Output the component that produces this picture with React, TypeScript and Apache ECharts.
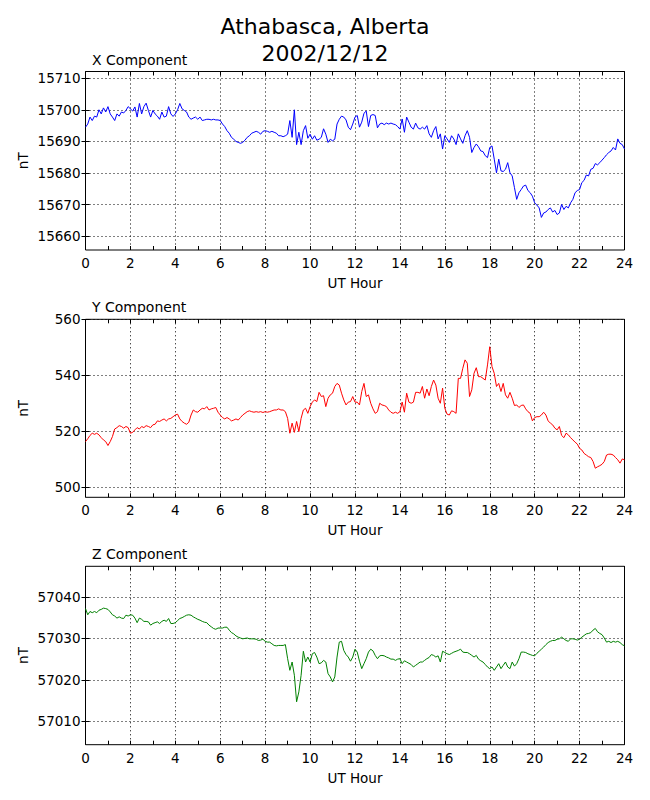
import React, { useEffect, useRef } from 'react';
import * as echarts from 'echarts';

// samples every 0.1 UT hour, 0..24
const STEP = 0.1;

const xComponent = [
  15694.5, 15695.5, 15697.7, 15696.6, 15698.0, 15697.7, 15700.0, 15698.7, 15700.6, 15699.3,
  15701.0, 15698.7, 15697.7, 15696.6, 15698.7, 15698.0, 15699.3, 15699.0, 15699.8, 15701.0,
  15700.3, 15699.6, 15700.9, 15697.7, 15702.0, 15698.7, 15701.0, 15702.1, 15699.8, 15697.7,
  15699.8, 15698.7, 15698.0, 15697.0, 15699.3, 15697.7, 15698.0, 15701.0, 15698.7, 15697.9,
  15698.7, 15700.0, 15702.0, 15700.3, 15699.8, 15699.3, 15697.7, 15697.0, 15697.4, 15697.7,
  15697.0, 15697.7, 15696.6, 15696.8, 15697.0, 15697.0, 15696.8, 15697.0, 15696.8, 15696.8,
  15696.6, 15695.5, 15694.7, 15693.4, 15692.6, 15691.3, 15690.7, 15690.0, 15689.7, 15689.4,
  15689.7, 15690.4, 15691.3, 15691.8, 15692.6, 15692.9, 15693.2, 15692.9, 15692.3, 15693.2,
  15693.4, 15693.2, 15692.9, 15693.2, 15692.9, 15692.6, 15691.8, 15691.8, 15691.5, 15691.8,
  15692.3, 15696.6, 15691.3, 15700.0, 15689.0, 15692.9, 15689.0, 15693.4, 15695.0, 15691.0,
  15692.3, 15690.7, 15691.8, 15690.4, 15690.7, 15691.3, 15694.0, 15692.3, 15689.7, 15690.7,
  15690.2, 15690.7, 15695.5, 15697.0, 15698.0, 15697.7, 15696.8, 15694.5, 15693.7, 15695.5,
  15697.7, 15698.2, 15694.5, 15696.1, 15698.9, 15699.6, 15694.7, 15698.2, 15698.5, 15698.2,
  15694.3, 15695.5, 15695.8, 15695.3, 15695.8, 15695.5, 15695.8, 15695.5, 15695.3, 15694.7,
  15693.9, 15697.1, 15692.9, 15697.7, 15696.1, 15694.5, 15693.9, 15695.8, 15694.3, 15693.9,
  15694.5, 15693.9, 15695.0, 15692.4, 15691.3, 15693.4, 15694.7, 15690.8, 15692.4, 15687.6,
  15691.8, 15690.8, 15689.7, 15691.8, 15690.8, 15689.0, 15692.4, 15690.8, 15689.4, 15691.8,
  15693.4, 15691.3, 15686.5, 15688.1, 15689.2, 15688.3, 15687.0, 15686.8, 15685.5, 15684.9,
  15688.1, 15688.6, 15684.4, 15680.1, 15684.4, 15680.7, 15680.5, 15681.2, 15683.3, 15680.1,
  15679.1, 15675.4, 15671.7, 15673.8, 15674.8, 15675.9, 15676.2, 15674.5, 15673.8, 15672.7,
  15670.6, 15669.9, 15669.0, 15666.0, 15667.4, 15667.7, 15668.5, 15669.0, 15667.7, 15668.2,
  15666.9, 15667.4, 15670.1, 15668.5, 15669.5, 15669.0, 15670.6, 15671.7, 15673.8, 15674.5,
  15674.8, 15677.0, 15677.7, 15679.4, 15679.1, 15681.2, 15681.5, 15683.0, 15682.6, 15683.3,
  15684.1, 15684.9, 15685.8, 15686.5, 15687.0, 15688.1, 15687.3, 15690.8, 15689.4, 15689.0,
  15687.6,
];

const yComponent = [
  516.3, 517.3, 518.5, 519.3, 518.9, 519.3, 518.7, 517.7, 516.9, 516.3,
  514.9, 516.3, 518.1, 520.8, 521.3, 522.0, 521.7, 521.1, 521.7, 521.3,
  519.3, 519.6, 520.5, 521.3, 520.8, 521.7, 521.3, 522.0, 521.7, 521.3,
  522.3, 522.5, 523.7, 523.5, 524.0, 524.4, 523.7, 524.4, 524.6, 525.2,
  525.8, 526.1, 524.4, 523.5, 522.9, 522.5, 523.2, 525.8, 527.6, 527.0,
  526.8, 527.6, 528.2, 528.0, 528.8, 527.6, 528.0, 528.2, 528.5, 526.8,
  525.8, 524.9, 524.4, 524.9, 524.4, 523.7, 524.0, 524.4, 524.0, 524.9,
  525.8, 526.4, 527.0, 527.3, 527.0, 526.8, 527.0, 526.8, 527.0, 526.7,
  527.0, 526.8, 527.0, 527.3, 527.6, 527.6, 528.0, 527.6, 527.6, 527.0,
  524.6, 519.3, 522.9, 519.6, 523.5, 519.9, 524.6, 527.6, 528.2, 526.4,
  528.8, 530.4, 531.2, 530.6, 533.9, 532.4, 532.7, 528.8, 531.8, 533.0,
  533.6, 536.0, 537.1, 536.5, 533.6, 531.2, 529.4, 530.4, 530.6, 532.4,
  530.4, 530.4, 529.4, 534.2, 537.1, 532.4, 533.0, 530.0, 528.0, 526.4,
  527.0, 530.0, 529.4, 529.2, 528.8, 527.6, 526.8, 526.4, 526.8, 526.4,
  527.0, 530.4, 526.8, 533.6, 530.4, 530.0, 530.4, 533.9, 533.9, 533.6,
  536.0, 531.8, 535.1, 532.7, 536.0, 538.3, 536.5, 531.8, 530.0, 535.4,
  528.2, 526.1, 525.8, 527.3, 527.0, 526.4, 538.9, 538.9, 542.5, 545.5,
  544.3, 532.4, 534.8, 540.7, 542.7, 539.5, 539.5, 538.9, 538.3, 543.7,
  550.2, 543.1, 540.7, 536.0, 537.1, 534.2, 537.1, 533.0, 531.8, 533.9,
  531.8, 529.2, 529.4, 528.5, 529.2, 529.4, 528.0, 527.0, 526.4, 523.7,
  524.9, 525.2, 525.2, 525.8, 526.8, 525.8, 523.7, 522.9, 522.3, 521.1,
  520.5, 521.7, 518.5, 517.7, 519.3, 518.7, 517.7, 516.9, 516.1, 515.4,
  513.9, 513.3, 512.1, 511.5, 510.9, 510.6, 509.2, 506.8, 507.3, 507.7,
  508.2, 509.2, 511.5, 511.8, 511.8, 511.5, 510.6, 509.8, 508.6, 510.1,
  509.8,
];

const zComponent = [
  57037.2, 57035.7, 57036.5, 57036.2, 57036.5, 57036.2, 57036.8, 57037.0, 57037.3, 57037.2,
  57037.0, 57036.4, 57035.7, 57035.4, 57034.9, 57035.2, 57034.9, 57034.8, 57035.6, 57035.4,
  57035.7, 57035.6, 57034.9, 57033.8, 57034.9, 57034.6, 57034.1, 57034.1, 57034.0, 57033.2,
  57033.6, 57033.8, 57034.0, 57033.6, 57034.1, 57034.4, 57034.1, 57034.8, 57033.6, 57033.6,
  57033.8, 57034.3, 57034.8, 57035.0, 57035.3, 57035.6, 57035.7, 57035.6, 57035.2, 57034.9,
  57034.6, 57034.4, 57034.1, 57033.9, 57033.8, 57033.2, 57032.8, 57032.4, 57032.2, 57032.5,
  57032.5, 57032.5, 57032.7, 57032.7, 57032.0, 57031.4, 57031.1, 57030.6, 57030.3, 57030.1,
  57029.9, 57030.0, 57030.1, 57029.9, 57029.9, 57029.9, 57029.8, 57029.5, 57029.6, 57029.8,
  57029.3, 57029.1, 57029.1, 57028.7, 57028.3, 57028.2, 57028.3, 57028.3, 57028.3, 57028.5,
  57025.1, 57022.3, 57024.3, 57021.1, 57014.7, 57017.1, 57021.1, 57026.9, 57024.3, 57025.5,
  57024.3, 57026.3, 57026.6, 57025.5, 57023.9, 57024.1, 57024.7, 57024.3, 57021.5, 57020.7,
  57019.5, 57020.7, 57025.5, 57029.1, 57029.3, 57027.1, 57026.1, 57025.5, 57024.5, 57025.5,
  57027.4, 57026.7, 57024.5, 57022.7, 57023.9, 57025.1, 57026.7, 57027.4, 57027.0, 57025.9,
  57025.1, 57025.8, 57025.9, 57025.8, 57025.5, 57025.3, 57025.0, 57025.0, 57024.7, 57025.0,
  57025.1, 57023.9, 57024.6, 57024.3, 57024.0, 57023.7, 57023.1, 57023.5, 57023.9, 57024.3,
  57024.3, 57024.7, 57025.1, 57025.4, 57026.1, 57025.9, 57025.5, 57025.8, 57024.3, 57026.9,
  57026.6, 57026.3, 57026.1, 57026.4, 57026.7, 57026.9, 57027.1, 57027.4, 57026.7, 57026.6,
  57026.6, 57026.3, 57025.9, 57025.5, 57025.9, 57025.0, 57024.6, 57024.3, 57023.7, 57023.1,
  57022.7, 57023.1, 57022.3, 57023.1, 57023.9, 57022.7, 57023.5, 57024.3, 57023.1, 57022.7,
  57024.3, 57023.3, 57023.9, 57025.1, 57026.7, 57026.7, 57026.6, 57026.3, 57026.1, 57025.9,
  57025.8, 57026.4, 57026.9, 57027.4, 57027.9, 57028.5, 57029.0, 57029.3, 57029.5, 57029.5,
  57029.8, 57029.9, 57030.3, 57029.9, 57029.5, 57029.3, 57029.9, 57029.9, 57029.8, 57029.6,
  57029.8, 57030.3, 57030.7, 57031.1, 57031.2, 57031.4, 57032.0, 57032.4, 57031.6, 57031.2,
  57030.9, 57030.1, 57029.1, 57029.3, 57029.0, 57029.3, 57029.1, 57029.3, 57029.0, 57028.5,
  57028.2,
];

const xTicks = [15660, 15670, 15680, 15690, 15700, 15710];
const yTicks = [500, 520, 540, 560];
const zTicks = [57010, 57020, 57030, 57040];

const FONT = 'DejaVu Sans';

const panels = [
  { title: 'X Component', values: xComponent, ticks: xTicks, min: 15655.7, max: 15712.1, color: '#0000ff', top: 71.5, height: 178.5 },
  { title: 'Y Component', values: yComponent, ticks: yTicks, min: 496.4, max: 560, color: '#ff0000', top: 319.3, height: 178 },
  { title: 'Z Component', values: zComponent, ticks: zTicks, min: 57004.35, max: 57047.4, color: '#008000', top: 566.3, height: 178.4 },
];

const tick = { inside: true, length: 4, lineStyle: { color: '#000', width: 1 } };
const dotted = { show: true, lineStyle: { color: '#000', width: 1, type: [1, 3] as number[] } };

const App: React.FC = () => {
  const ref = useRef<HTMLDivElement>(null);

  useEffect(() => {
    if (!ref.current) return;
    const chart = echarts.init(ref.current, undefined, { renderer: 'svg' });

    const grid: any[] = [];
    const xAxis: any[] = [];
    const yAxis: any[] = [];
    const series: any[] = [];
    const title: any[] = [{
      text: 'Athabasca, Alberta\n2002/12/12',
      left: 'center',
      top: 13,
      padding: 0,
      textStyle: { fontFamily: FONT, fontSize: 22, fontWeight: 'normal', color: '#000', lineHeight: 27 },
    }];

    panels.forEach((p, i) => {
      grid.push({ left: 85.5, width: 539, top: p.top, height: p.height, show: true, borderColor: '#000', borderWidth: 1, backgroundColor: 'transparent' });
      title.push({
        text: p.title,
        left: 92,
        top: p.top - 20,
        padding: 0,
        textStyle: { fontFamily: FONT, fontSize: 14, fontWeight: 'normal', color: '#000', lineHeight: 16 },
      });
      const xBase = {
        type: 'value', gridIndex: i, min: 0, max: 24, interval: 2,
        axisLine: { show: false },
        axisTick: tick,
        minorTick: { show: true, splitNumber: 2, length: 4, lineStyle: { color: '#000', width: 1 } },
      };
      xAxis.push({
        ...xBase, position: 'bottom',
        splitLine: dotted,
        axisLabel: { color: '#000', fontFamily: FONT, fontSize: 13.5, margin: 6 },
        name: 'UT Hour', nameLocation: 'middle', nameGap: 26, nameMoveOverlap: false,
        nameTextStyle: { color: '#000', fontFamily: FONT, fontSize: 13.5 },
      });
      xAxis.push({ ...xBase, position: 'top', splitLine: { show: false }, axisLabel: { show: false } });

      const yBase = {
        type: 'value', gridIndex: i, min: p.min, max: p.max,
        axisLine: { show: false },
        axisTick: { ...tick, customValues: p.ticks },
      };
      yAxis.push({
        ...yBase, position: 'left',
        splitLine: dotted,
        axisLabel: {
          customValues: p.ticks, color: '#000', fontFamily: FONT, fontSize: 13.5, margin: 5,
          formatter: (v: number) => String(v),
        },
        name: 'nT', nameLocation: 'middle', nameRotate: 90, nameGap: 56, nameMoveOverlap: false,
        nameTextStyle: { color: '#000', fontFamily: FONT, fontSize: 13.5 },
      });
      yAxis.push({ ...yBase, position: 'right', splitLine: { show: false }, axisLabel: { show: false } });

      series.push({
        type: 'line',
        xAxisIndex: i * 2,
        yAxisIndex: i * 2,
        data: p.values.map((v, k) => [Number((k * STEP).toFixed(1)), v]),
        showSymbol: false,
        symbol: 'none',
        clip: true,
        lineStyle: { color: p.color, width: 1 },
      });
    });

    chart.setOption({
      animation: false,
      backgroundColor: '#fff',
      textStyle: { fontFamily: FONT },
      title,
      grid,
      xAxis,
      yAxis,
      series,
    });

    return () => chart.dispose();
  }, []);

  return <div ref={ref} style={{ position: 'fixed', left: 0, top: 0, width: 650, height: 800 }} />;
};

export default App;
